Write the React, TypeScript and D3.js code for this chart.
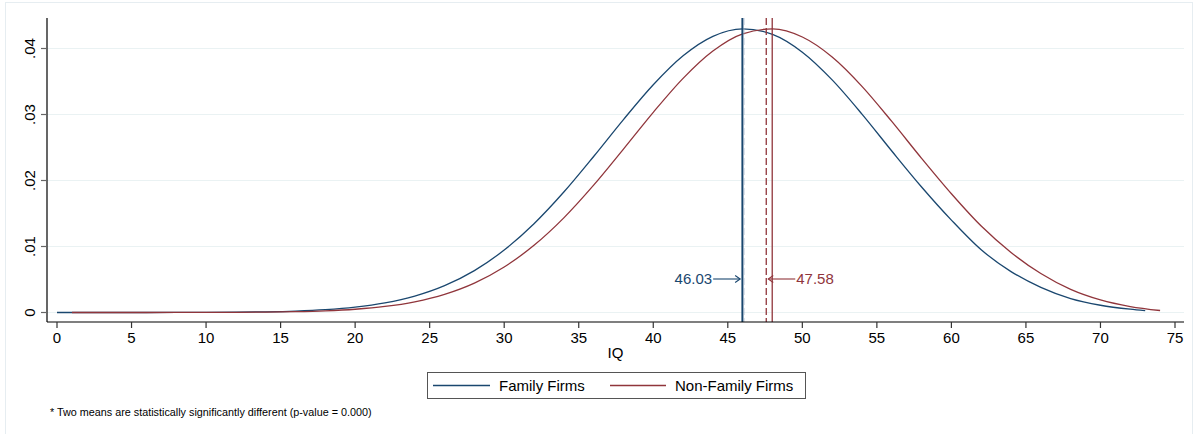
import React from 'react';
import * as d3 from 'd3';

// IQ density curves
const familyIQ = [0, 2, 4, 6, 8, 10, 12, 14, 16, 18, 20, 22, 24, 26, 28, 30, 32, 34, 36, 38, 40, 42, 44, 46, 48, 50, 52, 54, 56, 58, 60, 62, 64, 66, 68, 70, 72, 73];
const familyDensity = [0.0000002, 0.0000005, 0.0000014, 0.0000037, 0.0000092, 0.0000218, 0.0000493, 0.000106, 0.000219, 0.000432, 0.000811, 0.001455, 0.00249, 0.00407, 0.00635, 0.00946, 0.01345, 0.01825, 0.02364, 0.02923, 0.03451, 0.0389, 0.04185, 0.04298, 0.04214, 0.03944, 0.03524, 0.03006, 0.02447, 0.01902, 0.014, 0.0095, 0.0062, 0.0038, 0.0021, 0.0011, 0.0005, 0.00028];

const nonFamilyIQ = [1, 2, 4, 6, 8, 10, 12, 14, 16, 18, 20, 22, 24, 26, 28, 30, 32, 34, 36, 38, 40, 42, 44, 46, 48, 50, 52, 54, 56, 58, 60, 62, 64, 66, 68, 70, 72, 74];
const nonFamilyDensity = [0.0000001, 0.0000002, 0.0000007, 0.0000017, 0.0000045, 0.000011, 0.000026, 0.000058, 0.000123, 0.000252, 0.000491, 0.000915, 0.001626, 0.002756, 0.00446, 0.0069, 0.01018, 0.01434, 0.01929, 0.02476, 0.03033, 0.03548, 0.03962, 0.04223, 0.04297, 0.04174, 0.03871, 0.03427, 0.02895, 0.02336, 0.01799, 0.0131, 0.0091, 0.0059, 0.0035, 0.0019, 0.0009, 0.0003];

// reference lines: mean (dashed) and peak (solid)
const meanValues = [46.03, 47.58];
const meanLabels = ['46.03', '47.58'];
const peakValues = [45.98, 47.98];

const seriesNames = ['Family Firms', 'Non-Family Firms'];
const xTicks = d3.range(0, 76, 5);
const yTicks = [0, 0.01, 0.02, 0.03, 0.04];
const yTickLabels = ['0', '.01', '.02', '.03', '.04'];
const xTitle = 'IQ';
const footnote = '* Two means are statistically significantly different (p-value = 0.000)';

const NAVY = '#1a476f';
const MAROON = '#90353b';
const FONT = "'Liberation Sans', Arial, sans-serif";

const App = () => {
  const width = 1197;
  const height = 434;

  const x = d3.scaleLinear().domain([0, 75]).range([57, 1175]);
  const y = d3.scaleLinear().domain([0, 0.04]).range([312.5, 48.5]);

  const plotLeft = 47;
  const plotRight = 1184;
  const plotTop = 18;
  const plotBottom = 322;

  const line = d3.line<[number, number]>()
    .x(d => x(d[0]))
    .y(d => y(d[1]))
    .curve(d3.curveMonotoneX);

  const familyPath = line(familyIQ.map((v, i) => [v, familyDensity[i]]));
  const nonFamilyPath = line(nonFamilyIQ.map((v, i) => [v, nonFamilyDensity[i]]));

  const arrowY = 279;
  const famX = x(meanValues[0]);
  const nonX = x(meanValues[1]);

  return (
    <svg width={width} height={height} style={{ position: 'absolute', left: 0, top: 0, background: '#fff' }} fontFamily={FONT}>
      <rect x={5.5} y={2.5} width={1187} height={440} fill="#fff" stroke="#e6edf1" />

      {/* grid */}
      {yTicks.map(t => (
        <line key={'g' + t} x1={plotLeft} x2={plotRight} y1={y(t)} y2={y(t)} stroke="#eaf2f3" strokeWidth={1.2} />
      ))}

      {/* curves */}
      <path d={familyPath || ''} fill="none" stroke={NAVY} strokeWidth={1.3} />
      <path d={nonFamilyPath || ''} fill="none" stroke={MAROON} strokeWidth={1.3} />

      {/* vertical reference lines */}
      <line x1={x(peakValues[0])} x2={x(peakValues[0])} y1={plotTop} y2={plotBottom} stroke={NAVY} strokeWidth={2} />
      <line x1={famX + 0.8} x2={famX + 0.8} y1={plotTop} y2={plotBottom} stroke="#9fb3c8" strokeWidth={0.8} strokeDasharray="7,3" />
      <line x1={nonX} x2={nonX} y1={plotTop} y2={plotBottom} stroke={MAROON} strokeWidth={1.3} strokeDasharray="7,3" />
      <line x1={x(peakValues[1])} x2={x(peakValues[1])} y1={plotTop} y2={plotBottom} stroke={MAROON} strokeWidth={1.3} />

      {/* mean annotations */}
      <g stroke={NAVY} strokeWidth={1.1} fill="none">
        <line x1={famX - 30} x2={famX - 3} y1={arrowY} y2={arrowY} />
        <polyline points={`${famX - 8},${arrowY - 3.5} ${famX - 3},${arrowY} ${famX - 8},${arrowY + 3.5}`} />
      </g>
      <text x={famX - 31} y={arrowY + 5} textAnchor="end" fontSize={15} fill={NAVY}>{meanLabels[0]}</text>
      <g stroke={MAROON} strokeWidth={1.1} fill="none">
        <line x1={nonX + 29} x2={nonX + 2} y1={arrowY} y2={arrowY} />
        <polyline points={`${nonX + 7},${arrowY - 3.5} ${nonX + 2},${arrowY} ${nonX + 7},${arrowY + 3.5}`} />
      </g>
      <text x={nonX + 30} y={arrowY + 5} textAnchor="start" fontSize={15} fill={MAROON}>{meanLabels[1]}</text>

      {/* axes */}
      <line x1={plotLeft} x2={plotLeft} y1={plotTop} y2={plotBottom} stroke="#000" strokeWidth={1.2} />
      <line x1={plotLeft} x2={plotRight} y1={plotBottom} y2={plotBottom} stroke="#000" strokeWidth={1.2} />
      {yTicks.map((t, i) => (
        <g key={'y' + t}>
          <line x1={plotLeft - 6} x2={plotLeft} y1={y(t)} y2={y(t)} stroke="#666" strokeWidth={1.2} />
          <text transform={`translate(34.5,${y(t)}) rotate(-90)`} textAnchor="middle" fontSize={15} fill="#000">{yTickLabels[i]}</text>
        </g>
      ))}
      {xTicks.map(t => (
        <g key={'x' + t}>
          <line x1={x(t)} x2={x(t)} y1={plotBottom} y2={plotBottom + 6} stroke="#333" strokeWidth={1.2} />
          <text x={x(t)} y={342.5} textAnchor="middle" fontSize={15} fill="#000">{t}</text>
        </g>
      ))}
      <text x={(plotLeft + plotRight) / 2} y={358} textAnchor="middle" fontSize={15} fill="#000">{xTitle}</text>

      {/* legend */}
      <rect x={427.5} y={372.5} width={378} height={26} fill="#fff" stroke="#555" strokeWidth={1} />
      <line x1={433} x2={490} y1={385.5} y2={385.5} stroke={NAVY} strokeWidth={1.3} />
      <text x={499} y={391} fontSize={15} fill="#000">{seriesNames[0]}</text>
      <line x1={610} x2={666} y1={385.5} y2={385.5} stroke={MAROON} strokeWidth={1.3} />
      <text x={675} y={391} fontSize={15} fill="#000">{seriesNames[1]}</text>

      <text x={50} y={416} fontSize={10.8} fill="#000">{footnote}</text>
    </svg>
  );
};

export default App;
